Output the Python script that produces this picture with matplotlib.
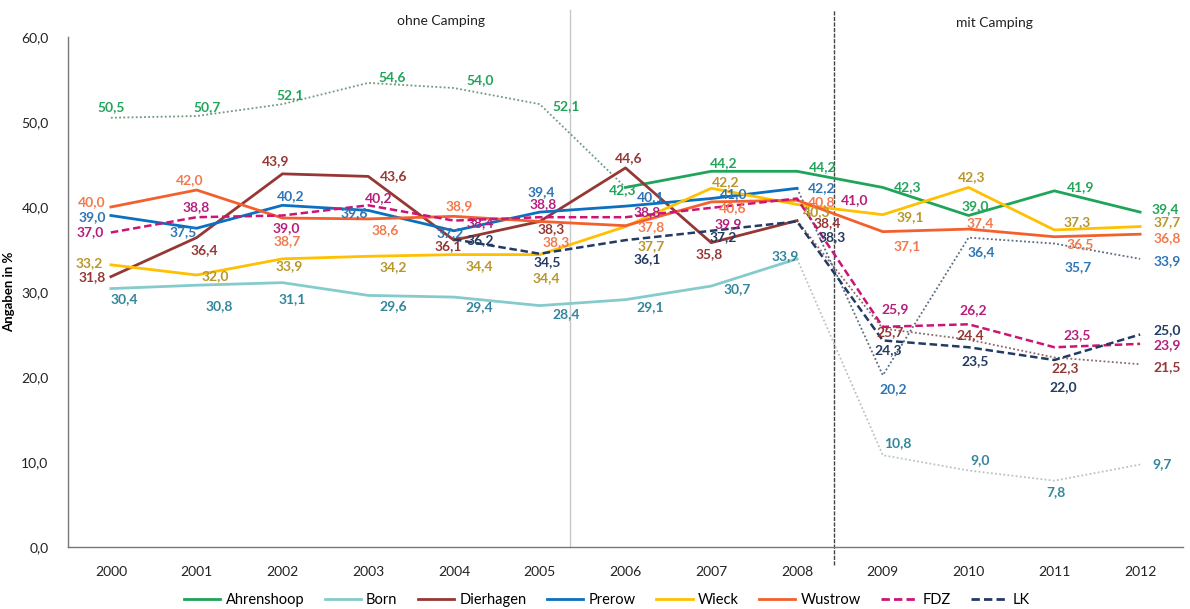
import numpy as np
import matplotlib.pyplot as plt
from matplotlib.lines import Line2D

plt.rcParams['font.family'] = ['Lato', 'DejaVu Sans']

years = ['2000', '2001', '2002', '2003', '2004', '2005', '2006',
         '2007', '2008', '2009', '2010', '2011', '2012']

ahrenshoop = [50.5, 50.7, 52.1, 54.6, 54.0, 52.1, 42.3, 44.2, 44.2, 42.3, 39.0, 41.9, 39.4]
born = [30.4, 30.8, 31.1, 29.6, 29.4, 28.4, 29.1, 30.7, 33.9, 10.8, 9.0, 7.8, 9.7]
dierhagen = [31.8, 36.4, 43.9, 43.6, 36.1, 38.3, 44.6, 35.8, 38.4, 25.7, 24.4, 22.3, 21.5]
prerow = [39.0, 37.5, 40.2, 39.6, 37.2, 39.4, 40.1, 41.0, 42.2, 20.2, 36.4, 35.7, 33.9]
wieck = [33.2, 32.0, 33.9, 34.2, 34.4, 34.4, 37.7, 42.2, 40.3, 39.1, 42.3, 37.3, 37.7]
wustrow = [40.0, 42.0, 38.7, 38.6, 38.9, 38.3, 37.8, 40.6, 40.8, 37.1, 37.4, 36.5, 36.8]
fdz = [37.0, 38.8, 39.0, 40.2, 38.4, 38.8, 38.8, 39.9, 41.0, 25.9, 26.2, 23.5, 23.9]
lk = [np.nan, np.nan, np.nan, np.nan, 36.2, 34.5, 36.1, 37.2, 38.3, 24.3, 23.5, 22.0, 25.0]

# label offsets in pixels (dx right, dy down)
off_ahr = [(0, -11), (10, -9), (8, -9), (24, -6), (26, -8), (26, 2), (-3, 3),
           (12, -8), (26, -4), (25, 0), (7, -9), (26, -4), (25, -3)]
off_born = [(13, 10), (23, 21), (10, 16), (25, 11), (25, 10), (26, 8), (25, 7),
            (26, 3), (-12, -3), (15, -12), (12, -10), (2, 11), (22, 0)]
off_die = [(-19, 0), (8, 12), (-7, -13), (25, 0), (-6, 6), (11, 8), (3, -10),
           (-2, 11), (30, 2), (7, 4), (2, -5), (11, 11), (27, 3)]
off_pre = [(-19, 2), (-13, 4), (8, -9), (-14, 3), (-4, 2), (2, -20), (25, -9),
           (22, -4), (25, 0), (10, 14), (13, 14), (24, 24), (27, 2)]
off_wie = [(-22, -2), (19, 1), (7, 7), (25, 11), (25, 11), (7, 23), (26, 20),
           (14, -6), (20, 8), (27, 2), (3, -10), (23, -8), (27, -4)]
off_wus = [(-19, -5), (-7, -10), (5, 23), (17, 11), (5, -10), (16, 21), (26, 1),
           (21, 6), (25, 2), (24, 14), (12, -6), (26, 7), (27, 4)]
off_fdz = [(-21, 0), (0, -10), (4, 13), (11, -7), (26, 2), (3, -13), (22, -5),
           (17, 16), (58, 2), (12, -18), (5, -14), (23, -12), (27, 1)]
off_lk = [None, None, None, None, (26, 1), (7, 8), (22, 19), (12, 6), (35, 16),
          (5, 10), (7, 14), (9, 27), (27, -4)]

# name, values, line colour, label colour, solid/dashed style, dotted range
series = [
    ('Ahrenshoop', ahrenshoop, '#1ea55a', '#22a55a', '-', (0, 6)),
    ('Born', born, '#86cbcb', '#31869b', '-', (8, 12)),
    ('Dierhagen', dierhagen, '#953735', '#953735', '-', (8, 12)),
    ('Prerow', prerow, '#0a70c0', '#2e75b6', '-', (8, 12)),
    ('Wieck', wieck, '#ffc000', '#b8962a', '-', None),
    ('Wustrow', wustrow, '#f4602d', '#f27a4e', '-', None),
    ('FDZ', fdz, '#cc1477', '#b51f7c', '--', None),
    ('LK', lk, '#233a63', '#233a63', '--', None),
]
offsets = [off_ahr, off_born, off_die, off_pre, off_wie, off_wus, off_fdz, off_lk]
dot_colors = ['#6f9a7e', '#b8c4c4', '#8a6a6a', '#5a6a80', None, None, None, None]

fig = plt.figure(figsize=(11.9, 6.09), dpi=100)
ax = fig.add_axes([68 / 1190, 1 - 547 / 609, (1183 - 68) / 1190, 510 / 609])

x = np.arange(len(years))
for (name, vals, col, lcol, ls, dotted), offs, dcol in zip(series, offsets, dot_colors):
    v = np.array(vals, dtype=float)
    if dotted is None:
        ax.plot(x, v, color=col, lw=2 if ls == '-' else 1.8, ls=ls,
                dashes=(3, 1.5) if ls == '--' else (None, None), zorder=3)
    else:
        a, b = dotted
        solid = v.copy()
        if a == 0:
            solid[:b] = np.nan
        else:
            solid[a + 1:] = np.nan
        dot = v.copy()
        dot[:a] = np.nan
        dot[b + 1:] = np.nan
        ax.plot(x, solid, color=col, lw=2, zorder=3)
        ax.plot(x, dot, color=dcol, lw=1.3, ls=(0, (1, 1.3)), zorder=2)
    for i, val in enumerate(vals):
        if np.isnan(val) or offs[i] is None:
            continue
        dx, dy = offs[i]
        ax.annotate(f'{val:.1f}'.replace('.', ','), (x[i], val),
                    xytext=(dx, -dy), textcoords='offset pixels',
                    ha='center', va='center', fontsize=10, fontweight='bold',
                    color=lcol, zorder=5)

ax.set_xlim(-0.5, len(years) - 0.5)
ax.set_ylim(0, 60)
ax.set_xticks(x)
ax.set_xticklabels(years)
yt = np.arange(0, 61, 10)
ax.set_yticks(yt)
ax.set_yticklabels([f'{t:.1f}'.replace('.', ',') for t in yt])
ax.tick_params(length=0, labelsize=10, colors='#222222', pad=14)
ax.tick_params(axis='y', pad=14)
for s in ['top', 'right']:
    ax.spines[s].set_visible(False)
for s in ['left', 'bottom']:
    ax.spines[s].set_color('#777777')
    ax.spines[s].set_linewidth(1)

ax.set_ylabel('Angaben in %', fontsize=9.5, fontweight='bold')
ax.yaxis.set_label_coords(-53 / 1115, 0.5)

# separators between periods
ax.plot([5.353, 5.353], [0, 63.2], color='#c8c8c8', lw=1, clip_on=False, zorder=1)
ax.plot([8.43, 8.43], [-2.1, 63.2], color='#444444', lw=1, ls=(0, (3, 1)),
        clip_on=False, zorder=1)
ax.text(3.85, 61.9, 'ohne Camping', fontsize=10, ha='center', va='center', color='#222222')
ax.text(10.3, 61.7, 'mit Camping', fontsize=10, ha='center', va='center', color='#222222')

handles = []
for name, vals, col, lcol, ls, dotted in series:
    if ls == '--':
        handles.append(Line2D([], [], color=col, lw=2, ls=(0, (3, 1.5)), label=name))
    else:
        handles.append(Line2D([], [], color=col, lw=2, label=name))
fig.legend(handles=handles, loc='center', bbox_to_anchor=(607 / 1190, 1 - 600 / 609),
           ncol=8, frameon=False, fontsize=10.5, handlelength=2.5,
           columnspacing=1.4, handletextpad=0.35)

fig.savefig('out.png', dpi=100)
